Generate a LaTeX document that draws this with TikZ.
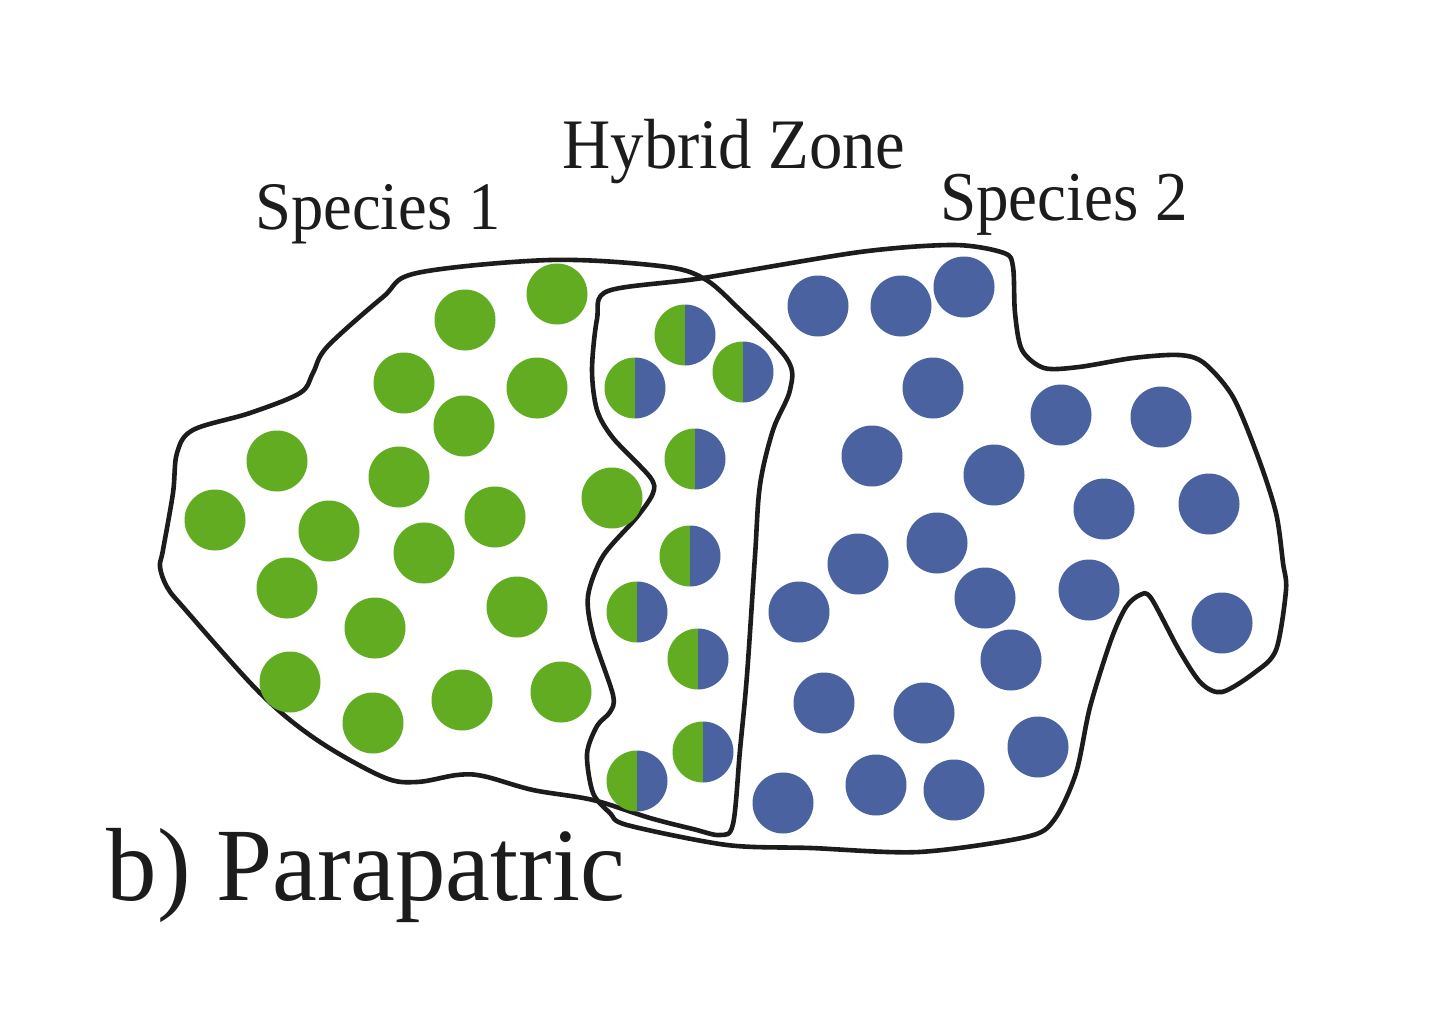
\documentclass[tikz,border=0pt]{standalone}
\usepackage{graphicx}
\usepackage{fontspec}
\setmainfont{Liberation Serif}
\definecolor{spg}{RGB}{98,172,34}
\definecolor{spb}{RGB}{74,99,160}
\definecolor{ink}{RGB}{28,28,28}
\begin{document}
\begin{tikzpicture}[x=1pt,y=-1pt,
  outline/.style={draw=ink,line width=4.6pt,line join=round},
  lab/.style={text=ink,inner sep=0pt,anchor=base}]
\fill[white] (0,0) rectangle (1440,1030);
\useasboundingbox (0,0) rectangle (1440,1030);

% Species 1 range (extends through hybrid zone)
\draw[outline] plot[smooth cycle, tension=0.55] coordinates {
 (173,493) (177,453) (193,430) (250,413) (300,393) (313,373) (327,347)
 (383,297) (417,273) (550,260) (660,266) (703,278) (737,307) (787,359)
 (790,390) (773,430) (760,485) (755,556) (747,675) (740,750) (733,824)
 (720,835) (693,829) (650,818) (593,800) (533,790) (483,776) (457,775)
 (417,782) (383,777) (317,740) (260,693) (183,607) (167,587) (160,567)
 (163,550)};

% Species 2 range
\draw[outline] plot[smooth cycle, tension=0.5] coordinates {
 (608,291) (703,278) (860,252) (954,245) (1004,253) (1013,267) (1015,313)
 (1022,350) (1044,368) (1079,367) (1133,358) (1179,355) (1204,363)
 (1233,397) (1258,457) (1276,513) (1283,563) (1286,590) (1276,650)
 (1254,673) (1222,692) (1201,683) (1179,650) (1151,598) (1140,595)
 (1126,607) (1111,640) (1090,707) (1076,773) (1054,820) (1026,837)
 (919,852) (811,848) (727,845) (627,825) (610,813) (593,793) (587,754)
 (597,726) (610,712) (613,695) (593,635) (588,596) (603,556) (637,517)
 (653,493) (650,477) (613,438) (597,410) (592,370) (597,319)};

% Species 1 individuals
\foreach \x/\y in {557/294, 465/320, 404/383, 537/388, 464/426, 277/461,
  399/477, 215/520, 329/531, 495/517, 612/498, 424/553, 287/588, 517/607,
  375/628, 290/682, 462/700, 561/692, 373/723}
  \fill[spg] (\x,\y) circle[radius=30.5];

% Species 2 individuals
\foreach \x/\y in {818/306, 901/306, 964/287, 933/388, 1061/415, 1161/417,
  872/456, 994/475, 1104/509, 1209/504, 858/564, 937/543, 985/598, 1089/590,
  799/612, 1222/623, 1011/660, 824/703, 924/713, 1038/747, 783/803, 876/785,
  954/790}
  \fill[spb] (\x,\y) circle[radius=30.5];

% Hybrids
\foreach \x/\y in {685/335, 635/388, 743/372, 695/459, 690/556, 637/612,
  698/659, 703/752, 637/781}{
  \fill[spg] (\x,\y) ++(0,-30.5) arc[start angle=-90,end angle=-270,radius=30.5] -- cycle;
  \fill[spb] (\x,\y) ++(0,-30.5) arc[start angle=-90,end angle=90,radius=30.5] -- cycle;
}

% Labels
\node[lab] (hz) at (734,168) {\fontsize{71}{80}\selectfont\scalebox{0.94}[1]{Hybrid Zone}};
\node[lab] (s1) at (378,229) {\fontsize{68}{80}\selectfont\scalebox{0.95}[1]{Species 1}};
\node[lab] (s2) at (1064,220) {\fontsize{70}{80}\selectfont\scalebox{0.93}[1]{Species 2}};
\node[lab] (ti) at (366,900) {\fontsize{104}{110}\selectfont\scalebox{0.97}[1]{b) Parapatric}};
\end{tikzpicture}
\end{document}
